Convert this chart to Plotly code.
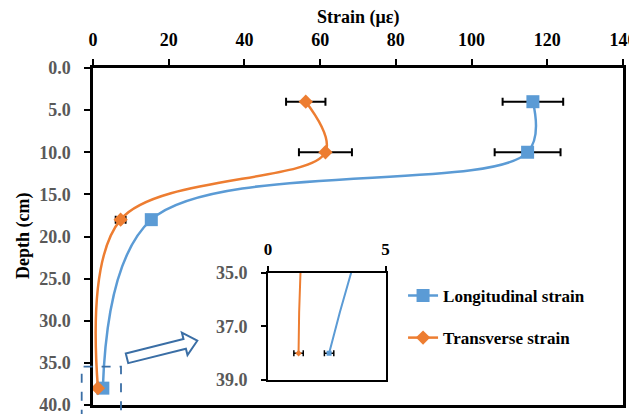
import plotly.graph_objects as go
import math

# ---------------- data ----------------
depth = [4, 10, 18, 38]
long_strain = [116.2, 114.8, 15.4, 2.6]
long_err = [8.0, 8.7, 1.0, 0.2]
trans_strain = [56.2, 61.4, 7.3, 1.3]
trans_err = [5.2, 7.0, 1.3, 0.2]

x_ticks = [0, 20, 40, 60, 80, 100, 120, 140]
y_ticks = [0, 5, 10, 15, 20, 25, 30, 35, 40]
inset_x_ticks = [0, 5]
inset_y_ticks = [35, 37, 39]

BLUE = "#5B9BD5"
ORANGE = "#ED7D31"
FONT = "Liberation Serif"

OFF = 8  # page body margin offset
W, H = 637, 414
# target plot area in screen pixels
PX0, PX1, PY0, PY1 = 93, 623, 68, 405
PW, PH = PX1 - PX0, PY1 - PY0
L = PX0 - OFF
T = PY0 - OFF
R = W - (PX1 - OFF)
B = H - (PY1 - OFF)


def px2paper(px, py):
    return (px - PX0) / PW, (PY1 - py) / PH


fig = go.Figure()

# main traces
fig.add_trace(go.Scatter(
    x=long_strain, y=depth, name="Longitudinal strain", mode="lines+markers",
    line=dict(color=BLUE, width=2.5, shape="spline", smoothing=1.0),
    marker=dict(symbol="square", size=13, color=BLUE),
    error_x=dict(type="data", array=long_err, color="black", thickness=2, width=4),
    legendgroup="a", xaxis="x", yaxis="y"))
fig.add_trace(go.Scatter(
    x=trans_strain, y=depth, name="Transverse strain", mode="lines+markers",
    line=dict(color=ORANGE, width=2.5, shape="spline", smoothing=1.0),
    marker=dict(symbol="diamond", size=11, color=ORANGE),
    error_x=dict(type="data", array=trans_err, color="black", thickness=2, width=4),
    legendgroup="b", xaxis="x", yaxis="y"))

# inset traces
fig.add_trace(go.Scatter(
    x=long_strain, y=depth, name="Longitudinal strain", mode="lines+markers",
    line=dict(color=BLUE, width=2, shape="spline", smoothing=1.0),
    marker=dict(symbol="square", size=5, color=BLUE),
    error_x=dict(type="data", array=long_err, color="black", thickness=1.5, width=3),
    showlegend=False, xaxis="x2", yaxis="y2"))
fig.add_trace(go.Scatter(
    x=trans_strain, y=depth, name="Transverse strain", mode="lines+markers",
    line=dict(color=ORANGE, width=2, shape="spline", smoothing=1.0),
    marker=dict(symbol="diamond", size=5, color=ORANGE),
    error_x=dict(type="data", array=trans_err, color="black", thickness=1.5, width=3),
    showlegend=False, xaxis="x2", yaxis="y2"))

# inset domain (pixel -> paper)
ix0, iy_bot = px2paper(268, 380)
ix1, iy_top = px2paper(385.5, 272.7)

bold_black = dict(family=FONT, size=18, color="black", weight="bold")
bold_gray = dict(family=FONT, size=18, color="#595959", weight="bold")

fig.update_layout(
    width=W, height=H,
    margin=dict(l=L, r=R, t=T, b=B, autoexpand=False),
    paper_bgcolor="white", plot_bgcolor="rgba(0,0,0,0)",
    font=dict(family=FONT, color="black"),
    showlegend=True,
    legend=dict(x=0.585, y=0.377, xanchor="left", yanchor="top",
                bgcolor="rgba(0,0,0,0)", borderwidth=0,
                font=dict(family=FONT, size=17, color="black", weight="bold"),
                tracegroupgap=17, traceorder="grouped"),
    xaxis=dict(domain=[0, 1], range=[0, 140], side="top", tickvals=x_ticks,
               ticks="outside", ticklen=6, tickwidth=2, tickcolor="black",
               ticklabelstandoff=6, automargin=False,
               showline=True, linewidth=2.5, linecolor="black", mirror=True,
               showgrid=False, zeroline=False, tickfont=bold_black),
    yaxis=dict(domain=[0, 1], range=[40, 0], tickvals=y_ticks, tickformat=".1f",
               ticks="outside", ticklen=6, tickwidth=2, tickcolor="black",
               ticklabelstandoff=10, automargin=False,
               showline=True, linewidth=2.5, linecolor="black", mirror=True,
               showgrid=False, zeroline=False, tickfont=bold_gray),
    xaxis2=dict(domain=[ix0, ix1], anchor="y2", range=[0, 5], side="top",
                tickvals=inset_x_ticks, ticks="outside", ticklen=5, tickwidth=2,
                tickcolor="black", showline=True, linewidth=2, linecolor="black",
                ticklabelstandoff=4, automargin=False,
                mirror=True, showgrid=False, zeroline=False,
                tickfont=dict(family=FONT, size=17, color="black", weight="bold")),
    yaxis2=dict(domain=[iy_bot, iy_top], anchor="x2", range=[39, 35],
                tickvals=inset_y_ticks, tickformat=".1f", ticks="outside", ticklen=5,
                tickwidth=2, tickcolor="black", showline=True, linewidth=2,
                ticklabelstandoff=10, automargin=False,
                linecolor="black", mirror=True, showgrid=False, zeroline=False,
                tickfont=dict(family=FONT, size=18, color="#595959", weight="bold")),
)

# axis titles as annotations at measured positions
tx_, ty_ = px2paper(358, 18)
fig.add_annotation(text="Strain (με)", xref="paper", yref="paper", x=tx_, y=ty_,
                   showarrow=False, xanchor="center", yanchor="middle",
                   font=dict(family=FONT, size=18, color="black", weight="bold"))
yx_, yy_ = px2paper(23, 236)
fig.add_annotation(text="Depth (cm)", xref="paper", yref="paper", x=yx_, y=yy_,
                   showarrow=False, xanchor="center", yanchor="middle", textangle=-90,
                   font=dict(family=FONT, size=18, color="black", weight="bold"))

# dashed zoom box (decoration)
bx0, by0 = px2paper(81.7, 366.7)
bx1, by1 = px2paper(121.0, 425)
fig.add_shape(type="rect", xref="paper", yref="paper", x0=bx0, x1=bx1, y0=by1, y1=by0,
              line=dict(color="#3A6EA5", width=1.8, dash="dash"), fillcolor="rgba(0,0,0,0)",
              layer="above")

# hollow block arrow (decoration)
tx, ty = 127.0, 358.3
hx, hy = 197.3, 340.7
dx, dy = hx - tx, hy - ty
ln = math.hypot(dx, dy)
ux, uy = dx / ln, dy / ln
nx, ny = -uy, ux
sw, hw, hl = 5.0, 11.6, 13.0
bxp, byp = hx - ux * hl, hy - uy * hl
pts = [
    (tx + nx * sw, ty + ny * sw),
    (bxp + nx * sw, byp + ny * sw),
    (bxp + nx * hw, byp + ny * hw),
    (hx, hy),
    (bxp - nx * hw, byp - ny * hw),
    (bxp - nx * sw, byp - ny * sw),
    (tx - nx * sw, ty - ny * sw),
]
pp = [px2paper(a, b) for a, b in pts]
path = "M " + " L ".join(f"{a:.5f},{b:.5f}" for a, b in pp) + " Z"
fig.add_shape(type="path", xref="paper", yref="paper", path=path,
              line=dict(color="#3A6EA5", width=2), fillcolor="white", layer="above")

fig.write_html("out.html")
